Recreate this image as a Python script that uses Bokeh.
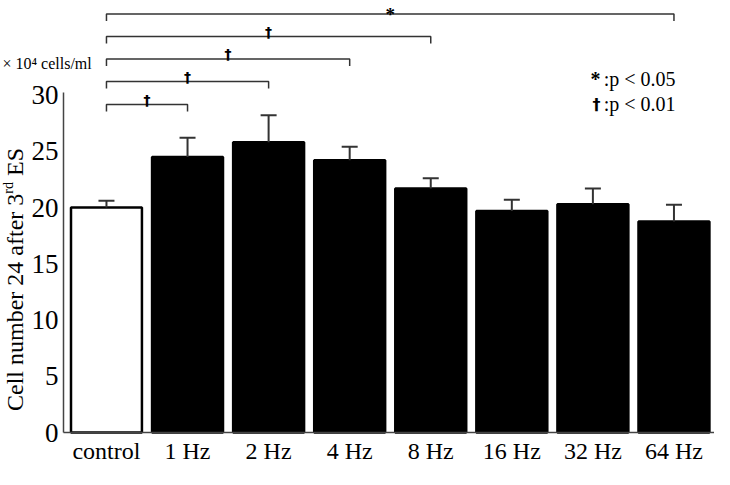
from bokeh.plotting import figure
from bokeh.models import ColumnDataSource, Whisker, TeeHead, Label, FixedTicker, Range1d
from bokeh.core.properties import value
from bokeh.embed import file_html
from bokeh.resources import INLINE

# ---- data ----
categories = ["control", "1 Hz", "2 Hz", "4 Hz", "8 Hz", "16 Hz", "32 Hz", "64 Hz"]
means = [20.0, 24.5, 25.8, 24.2, 21.7, 19.7, 20.3, 18.75]
errors = [0.6, 1.7, 2.4, 1.2, 0.9, 1.0, 1.4, 1.5]
y_ticks = [0, 5, 10, 15, 20, 25, 30]
# comparisons against control: target index, mark, bracket height
comp_targets = [1, 2, 3, 4, 7]
comp_marks = ["†", "†", "†", "†", "*"]
comp_levels = [29.15, 31.2, 33.2, 35.2, 37.2]
legend_marks = ["*", "†"]
legend_texts = [":p < 0.05", ":p < 0.01"]
unit_text = "× 10⁴ cells/ml"
ylabel_main, ylabel_sup, ylabel_tail = "Cell number 24 after 3", "rd", "ES"

FONT = "Liberation Serif"
INK = "#333333"

W, H = 714, 469
AXIS_PX = 63            # canvas x of the y axis line
BASE_PX = 432           # canvas y of the zero line
XA, X1 = -0.53, 7.50    # data x of y axis and right end
ppx = (W - AXIS_PX) / (X1 - XA)
XL = XA - AXIS_PX / ppx
Y1 = 38.4
ppy = BASE_PX / Y1
Y0 = -(H - BASE_PX) / ppy

p = figure(width=W, height=H, output_backend="svg", toolbar_location=None,
           x_range=Range1d(XL, X1), y_range=Range1d(Y0, Y1),
           min_border_left=0, min_border_right=0, min_border_top=0, min_border_bottom=0)
p.outline_line_color = None
p.xgrid.visible = False
p.ygrid.visible = False
p.background_fill_color = "white"

# axes
p.yaxis.ticker = FixedTicker(ticks=y_ticks)
p.yaxis.bounds = (0, 30.25)
p.yaxis.fixed_location = XA
p.xaxis.ticker = FixedTicker(ticks=list(range(len(categories))))
p.xaxis.major_label_overrides = {i: c for i, c in enumerate(categories)}
p.xaxis.bounds = (XA, X1)
p.xaxis.fixed_location = 0
for ax in (p.xaxis, p.yaxis):
    ax.major_tick_in = 0
    ax.major_tick_out = 0
    ax.minor_tick_in = 0
    ax.minor_tick_out = 0
    ax.axis_line_color = "#444444"
    ax.axis_line_width = 1.5
    ax.major_label_text_font = FONT
    ax.major_label_text_color = "black"
p.yaxis.major_label_text_font_size = "27px"
p.yaxis.major_label_standoff = 5
p.xaxis.major_label_text_font_size = "24px"
p.xaxis.major_label_standoff = 5

# bars
src = ColumnDataSource(dict(
    x=list(range(len(categories))),
    top=means,
    upper=[m + e for m, e in zip(means, errors)],
    fill=["white"] + ["black"] * (len(categories) - 1),
))
p.vbar(x="x", top="top", bottom=0, width=0.875, fill_color="fill",
       line_color="black", line_width=2.5, source=src)

# error bars (upper only)
p.add_layout(Whisker(source=src, base="x", lower="top", upper="upper",
                     upper_head=TeeHead(size=16, line_color=INK, line_width=2),
                     lower_head=None, line_color=INK, line_width=2, level="overlay"))

# significance brackets
tick = 7 / ppy
p.multi_line(xs=[[0, 0, t, t] for t in comp_targets],
             ys=[[lv - tick, lv, lv, lv - tick] for lv in comp_levels],
             line_color=INK, line_width=1.5)
dag = [(t / 2, lv, m) for t, lv, m in zip(comp_targets, comp_levels, comp_marks) if m == "†"]
star = [(t / 2, lv, m) for t, lv, m in zip(comp_targets, comp_levels, comp_marks) if m == "*"]
p.text(x=[d[0] for d in dag], y=[d[1] for d in dag], text=[d[2] for d in dag],
       text_font=value("DejaVu Sans"), text_font_style="bold", text_font_size="14px",
       text_align="center", text_baseline="alphabetic", y_offset=-5, text_color="black")
p.text(x=[d[0] for d in star], y=[d[1] for d in star], text=[d[2] for d in star],
       text_font=value(FONT), text_font_style="bold", text_font_size="19px",
       text_align="center", text_baseline="alphabetic", y_offset=0, text_color="black")

# legend of marks
def dx(canvas_px):
    return XL + canvas_px / ppx

legend_rows = [31.4, 29.2]
for mk, tx, yy in zip(legend_marks, legend_texts, legend_rows):
    mfont = FONT if mk == "*" else "DejaVu Sans"
    msize = "20px" if mk == "*" else "16px"
    p.add_layout(Label(x=dx(600), y=yy, text=mk, text_font=mfont, text_font_style="bold",
                       text_font_size=msize, text_align="right", text_baseline="middle",
                       text_color="black"))
    p.add_layout(Label(x=dx(675), y=yy, text=tx, text_font=FONT,
                       text_font_size="20px", text_align="right", text_baseline="middle",
                       text_color="black"))

# unit label
p.add_layout(Label(x=dx(2), y=32.8, text=unit_text, text_font=FONT, text_font_size="16px",
                   text_align="left", text_baseline="middle", text_color="black"))

# y axis title with superscript
EM = {"C": .667, "e": .444, "l": .278, " ": .25, "n": .5, "u": .5, "m": .778, "b": .5,
      "r": .333, "2": .5, "4": .5, "a": .444, "f": .333, "t": .278, "3": .5, "d": .5,
      "E": .611, "S": .556}
def width_px(s, size):
    return sum(EM.get(c, .5) for c in s) * size

MAIN_SIZE, SUP_SIZE = 24, 14
total = (width_px(ylabel_main, MAIN_SIZE) + width_px(ylabel_sup, SUP_SIZE)
         + width_px(" " + ylabel_tail, MAIN_SIZE)) / ppy
y_start = 13.6 - total / 2
y_sup = y_start + width_px(ylabel_main, MAIN_SIZE) / ppy
y_tail = y_sup + width_px(ylabel_sup, SUP_SIZE) / ppy + width_px(" ", MAIN_SIZE) / ppy
p.add_layout(Label(x=dx(14), y=y_start, text=ylabel_main, angle=1.5707963, text_font=FONT,
                   text_font_size=f"{MAIN_SIZE}px", text_align="left", text_baseline="middle",
                   text_color="black"))
p.add_layout(Label(x=dx(8), y=y_sup, text=ylabel_sup, angle=1.5707963, text_font=FONT,
                   text_font_size=f"{SUP_SIZE}px", text_align="left", text_baseline="middle",
                   text_color="black"))
p.add_layout(Label(x=dx(14), y=y_tail, text=ylabel_tail, angle=1.5707963, text_font=FONT,
                   text_font_size=f"{MAIN_SIZE}px", text_align="left", text_baseline="middle",
                   text_color="black"))

open("out.html", "w").write(file_html(p, INLINE))
